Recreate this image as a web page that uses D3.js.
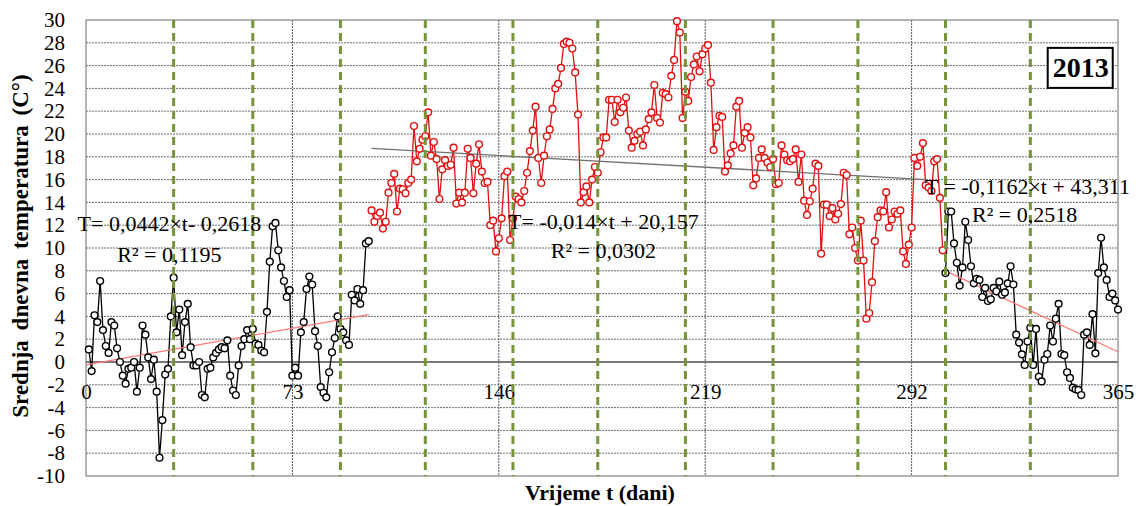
<!DOCTYPE html>
<html>
<head>
<meta charset="utf-8">
<script src="https://cdn.jsdelivr.net/npm/d3@7"></script>
<style>
  body { margin: 0; background: #fff; }
  svg { display: block; }
  text { font-family: "Liberation Serif", "Times New Roman", serif; fill: #000; }
</style>
</head>
<body>
<svg width="1136" height="506"></svg>
<script>
// daily mean temperature 2013, three periods
var yearLabel = "2013";
var xTicks = [0, 73, 146, 219, 292, 365];
var yTicks = [-10, -8, -6, -4, -2, 0, 2, 4, 6, 8, 10, 12, 14, 16, 18, 20, 22, 24, 26, 28, 30];
var monthEnds = [31, 59, 90, 120, 151, 181, 212, 243, 273, 304, 334];

var winterStart = 1;
var winterTemps = [
  1.1, -0.8, 4.1, 3.5, 7.1, 2.8, 1.4, 0.8, 3.5, 3.2,
  1.2, 0.0, -1.2, -1.9, -0.6, -0.5, 0.0, -2.6, -0.5, 3.2,
  2.4, 0.4, -1.5, 0.2, -2.6, -8.4, -5.1, -1.1, -0.6, 4.0,
  7.4, 2.6, 4.6, 0.6, 3.5, 5.1, 1.3, -0.3, -0.3, 0.0,
  -2.9, -3.1, -0.6, -0.5, 0.4, 0.8, 1.1, 1.3, 1.2, 1.9,
  -1.2, -2.5, -2.9, -0.3, 1.4, 2.0, 2.8, 2.0, 2.9, 1.6,
  1.5, 1.0, 0.85, 4.4, 8.8, 11.9, 12.2, 9.8, 8.3, 7.1,
  5.7, 6.3, -1.2, -0.5, -1.2, 2.6, 3.5, 6.4, 7.5, 6.8,
  2.7, 1.4, -2.2, -2.7, -3.1, -0.9, 0.85, 2.1, 4.0, 2.9,
  2.6, 1.9, 1.5, 5.9, 5.4, 6.4, 5.1, 6.3, 10.4, 10.6
];

var summerStart = 101;
var summerTemps = [
  13.3, 12.3, 12.8, 13.1, 11.7, 12.3, 14.85, 15.7, 16.5, 13.2,
  15.2, 15.15, 14.8, 15.7, 16.0, 20.7, 17.6, 18.7, 19.5, 19.8,
  21.9, 18.1, 19.3, 17.8, 14.3, 16.9, 17.7, 17.2, 17.3, 18.8,
  13.9, 14.85, 14.0, 14.85, 18.7, 17.9, 14.8, 17.4, 19.1, 16.7,
  15.7, 15.8, 12.0, 12.4, 9.7, 10.85, 12.6, 16.3, 16.7, 10.7,
  12.6, 14.5, 14.3, 14.0, 15.0, 16.6, 18.5, 20.3, 22.4, 17.9,
  15.7, 18.1, 19.8, 20.4, 22.2, 24.0, 24.4, 25.8, 27.9, 28.1,
  28.0, 27.5, 25.4, 21.7, 14.0, 14.9, 15.4, 14.0, 16.0, 17.1,
  16.6, 18.4, 19.7, 19.7, 23.0, 23.0, 21.05, 23.0, 21.9, 22.3,
  23.2, 20.3, 18.8, 19.4, 20.0, 20.2, 19.0, 20.4, 21.3, 21.9,
  24.3, 21.4, 21.0, 23.6, 23.5, 23.2, 25.1, 26.5, 29.9, 28.9,
  21.4, 23.7, 22.9, 25.0, 26.1, 26.8, 25.5, 27.0, 27.5, 27.8,
  24.5, 18.6, 20.6, 21.6, 21.5, 16.7, 17.25, 18.3, 19.0, 22.4,
  22.9, 18.8, 20.1, 20.6, 19.7, 15.5, 16.1, 17.9, 18.65, 17.9,
  17.5, 17.1, 17.8, 15.6, 15.7, 19.0, 18.2, 17.7, 17.6, 17.8,
  18.65, 15.8, 18.2, 14.15, 12.9, 14.1, 15.2, 17.4, 17.2, 9.5,
  13.8, 13.8, 12.8, 13.5, 12.5, 13.0, 13.85, 16.6, 16.4, 11.2,
  11.8, 10.0, 8.9, 12.4, 8.9, 3.8, 4.3, 7.0, 10.6, 12.7,
  13.3, 13.2, 14.9, 11.8, 12.5, 13.2, 13.0, 13.3, 9.7, 8.6,
  10.3, 11.8, 17.9, 17.2, 18.0, 19.2, 15.5, 15.3, 15.0, 17.6,
  17.8, 14.4, 9.8
];

var autumnStart = 304;
var autumnTemps = [
  7.8, 13.2, 13.2, 10.4, 8.7, 6.7, 8.3, 12.3, 10.7, 8.4,
  6.9, 7.3, 7.2, 5.7, 6.5, 5.35, 5.5, 6.5, 6.2, 7.05,
  5.9, 6.1, 6.9, 8.4, 6.8, 2.4, 1.7, 0.67, -0.26, 1.8,
  3.0, -0.26, 2.9, -1.3, -1.7, 0.2, 0.7, 3.2, 1.8, 3.8,
  5.1, 0.7, 0.6, -0.9, -1.4, -2.25, -2.4, -2.45, -2.9, 2.4,
  2.6, 1.5, 4.2, 0.76, 7.8, 10.9, 8.3, 7.2, 5.7, 6.0,
  5.4, 4.6
];

// linear trends T = a*t + b
var trendSlope = [0.0442, -0.014, -0.1162];
var trendIntercept = [-0.2618, 20.157, 43.311];
var trendFrom = [0, 101, 304];
var trendTo = [100, 297, 365];
var trendText = ["T= 0,0442×t- 0,2618", "T= -0,014×t + 20,157", "T = -0,1162×t + 43,311"];
var r2Text = ["R² = 0,1195", "R² = 0,0302", "R² = 0,2518"];

var margin = {top: 20, right: 18, bottom: 30, left: 86},
    width = 1136 - margin.left - margin.right,
    height = 476 - margin.top;

var x = d3.scaleLinear().domain([0, 365]).range([0, width]);
var y = d3.scaleLinear().domain([-10, 30]).range([height, 0]);

var svg = d3.select("svg");
var g = svg.append("g").attr("transform", "translate(" + margin.left + "," + margin.top + ")");

// horizontal grid
g.append("g").selectAll("line")
    .data(yTicks.filter(function(d) { return d > -10 && d < 30 && d !== 0; }))
    .enter().append("line")
    .attr("x1", 0).attr("x2", width)
    .attr("y1", function(d) { return y(d); })
    .attr("y2", function(d) { return y(d); })
    .attr("stroke", "#6e6e6e")
    .attr("stroke-width", 1)
    .attr("stroke-dasharray", "2,1");

// vertical grid
g.append("g").selectAll("line")
    .data(xTicks.filter(function(d) { return d > 0 && d < 365; }))
    .enter().append("line")
    .attr("x1", function(d) { return x(d); })
    .attr("x2", function(d) { return x(d); })
    .attr("y1", 0).attr("y2", height)
    .attr("stroke", "#555")
    .attr("stroke-width", 1)
    .attr("stroke-dasharray", "2,1");

// plot frame
g.append("rect")
    .attr("x", 0).attr("y", 0)
    .attr("width", width).attr("height", height)
    .attr("fill", "none")
    .attr("stroke", "#8c8c8c")
    .attr("stroke-width", 1.3);

// zero line
g.append("line")
    .attr("x1", 0).attr("x2", width)
    .attr("y1", y(0)).attr("y2", y(0))
    .attr("stroke", "#7a7a7a")
    .attr("stroke-width", 2);

// axes labels (plain hyphen for negatives, as in the original)
var yAxis = d3.axisLeft(y).tickValues(yTicks).tickSize(0).tickPadding(21)
    .tickFormat(function(d) { return String(d); });
var gY = g.append("g").call(yAxis);
gY.select(".domain").remove();
gY.selectAll("text").style("font-size", "21px").style("font-family", "'Liberation Serif', serif");

var xAxis = d3.axisBottom(x).tickValues(xTicks).tickSize(0).tickPadding(22)
    .tickFormat(function(d) { return String(d); });
var gX = g.append("g").attr("transform", "translate(0," + y(0) + ")").call(xAxis);
gX.select(".domain").remove();
gX.selectAll("text").style("font-size", "21px").style("font-family", "'Liberation Serif', serif");

function toPoints(start, temps) {
  return temps.map(function(v, i) { return {t: start + i, v: v}; });
}

var series = [
  {pts: toPoints(winterStart, winterTemps), color: "#000"},
  {pts: toPoints(summerStart, summerTemps), color: "#e01010"},
  {pts: toPoints(autumnStart, autumnTemps), color: "#000"}
];

var line = d3.line()
    .x(function(d) { return x(d.t); })
    .y(function(d) { return y(d.v); });

series.forEach(function(s) {
  g.append("path")
      .datum(s.pts)
      .attr("fill", "none")
      .attr("stroke", s.color)
      .attr("stroke-width", 1.3)
      .attr("stroke-linejoin", "round")
      .attr("d", line);
});

// trend lines
var trendColors = ["#ff7a7a", "#707070", "#ff7a7a"];
trendSlope.forEach(function(a, i) {
  var b = trendIntercept[i];
  g.append("line")
      .attr("x1", x(trendFrom[i])).attr("y1", y(a * trendFrom[i] + b))
      .attr("x2", x(trendTo[i])).attr("y2", y(a * trendTo[i] + b))
      .attr("stroke", trendColors[i])
      .attr("stroke-width", 1.3);
});

series.forEach(function(s) {
  g.append("g").selectAll("circle")
      .data(s.pts)
      .enter().append("circle")
      .attr("cx", function(d) { return x(d.t); })
      .attr("cy", function(d) { return y(d.v); })
      .attr("r", 3.4)
      .attr("fill", "#fff")
      .attr("stroke", s.color)
      .attr("stroke-width", 1.4);
});

// month boundaries
g.append("g").selectAll("line")
    .data(monthEnds)
    .enter().append("line")
    .attr("x1", function(d) { return x(d); })
    .attr("x2", function(d) { return x(d); })
    .attr("y1", 0).attr("y2", height)
    .attr("stroke", "#77933c")
    .attr("stroke-width", 3)
    .attr("stroke-dasharray", "8,5");

// equation labels
var eqPos = [[29.5, 11.9], [183, 12.1], [333, 15.2]];
var r2Pos = [[29.5, 9.2], [183, 9.6], [332, 12.7]];
trendText.forEach(function(t, i) {
  g.append("text")
      .attr("x", x(eqPos[i][0])).attr("y", y(eqPos[i][1]))
      .attr("text-anchor", "middle")
      .attr("dominant-baseline", "middle")
      .style("font-size", "22px")
      .text(t);
  g.append("text")
      .attr("x", x(r2Pos[i][0])).attr("y", y(r2Pos[i][1]))
      .attr("text-anchor", "middle")
      .attr("dominant-baseline", "middle")
      .style("font-size", "22px")
      .text(r2Text[i]);
});

// year box
var yb = g.append("g").attr("transform", "translate(" + (x(355) - 9) + "," + y(25.8) + ")");
yb.append("rect")
    .attr("x", -33).attr("y", -20)
    .attr("width", 65).attr("height", 40)
    .attr("fill", "#fff")
    .attr("stroke", "#000")
    .attr("stroke-width", 2);
yb.append("text")
    .attr("text-anchor", "middle")
    .attr("dominant-baseline", "central")
    .style("font-size", "28px")
    .style("font-weight", "bold")
    .text(yearLabel);

// axis titles
svg.append("text")
    .attr("transform", "translate(23,246) rotate(-90)")
    .attr("text-anchor", "middle")
    .attr("dominant-baseline", "middle")
    .style("font-size", "23px")
    .style("font-weight", "bold")
    .style("word-spacing", "4px")
    .text("Srednja dnevna temperatura (C°)");

svg.append("text")
    .attr("x", 600).attr("y", 495)
    .attr("text-anchor", "middle")
    .attr("dominant-baseline", "middle")
    .style("font-size", "22px")
    .style("font-weight", "bold")
    .text("Vrijeme t (dani)");
</script>
</body>
</html>
